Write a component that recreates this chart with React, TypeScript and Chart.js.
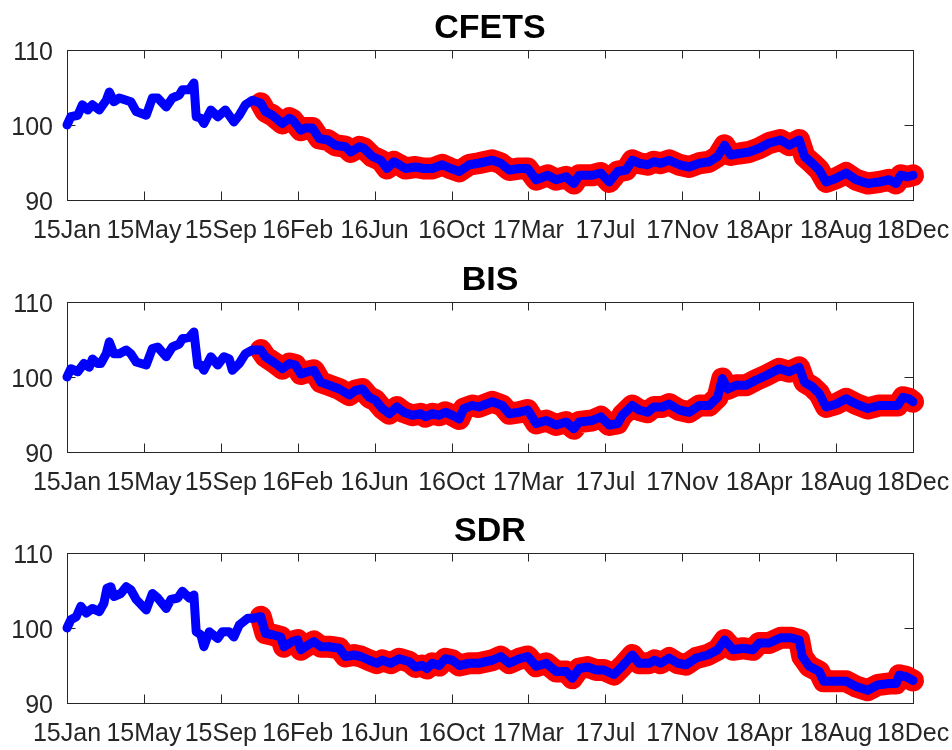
import React, { useEffect, useRef } from 'react';
import { Chart, registerables } from 'chart.js';

Chart.register(...registerables);

// x positions are in units of the (evenly spaced) date-tick intervals
const tickLabels = ['15Jan', '15May', '15Sep', '16Feb', '16Jun', '16Oct', '17Mar', '17Jul', '17Nov', '18Apr', '18Aug', '18Dec'];
const yMin = 90;
const yMax = 110;
const yStep = 10;
const redStart = 2.45;

const cfetsT = [0, 0.05, 0.14, 0.20, 0.27, 0.33, 0.42, 0.51, 0.55, 0.61, 0.68, 0.77, 0.83, 0.90, 1.03, 1.11, 1.18, 1.29, 1.37, 1.46, 1.50, 1.59, 1.65, 1.68, 1.74, 1.78, 1.87, 1.96, 2.06, 2.17, 2.24, 2.32, 2.41, 2.52, 2.58, 2.67, 2.80, 2.89, 2.93, 3.04, 3.10, 3.19, 3.28, 3.39, 3.49, 3.62, 3.69, 3.80, 3.86, 3.97, 4.08, 4.16, 4.25, 4.32, 4.40, 4.53, 4.64, 4.75, 4.88, 4.99, 5.10, 5.23, 5.35, 5.53, 5.64, 5.75, 5.88, 5.99, 6.10, 6.25, 6.36, 6.49, 6.59, 6.66, 6.83, 6.94, 7.05, 7.16, 7.27, 7.35, 7.44, 7.55, 7.63, 7.72, 7.83, 7.96, 8.09, 8.22, 8.35, 8.46, 8.55, 8.63, 8.74, 8.87, 9.00, 9.13, 9.28, 9.39, 9.52, 9.59, 9.69, 9.78, 9.87, 10.00, 10.13, 10.26, 10.41, 10.56, 10.69, 10.78, 10.84, 10.93, 11.00];
const cfetsV = [100, 101.1, 101.3, 102.7, 102, 102.7, 102, 103.3, 104.4, 103.1, 103.6, 103.3, 103.1, 101.8, 101.3, 103.6, 103.6, 102.4, 103.6, 104, 104.7, 104.7, 105.6, 101.1, 100.9, 100.2, 102, 101.1, 102, 100.4, 101.3, 102.7, 103.3, 102.9, 101.8, 101.3, 100.2, 100.9, 100.7, 99.3, 99.6, 99.6, 98.2, 98, 97.3, 97.1, 96.4, 97.1, 96.9, 95.8, 95.3, 94.2, 95.1, 94.7, 94.2, 94.4, 94.2, 94.2, 94.7, 94.2, 93.8, 94.7, 94.9, 95.3, 94.9, 94, 94.2, 94.2, 92.7, 93.3, 92.7, 93.1, 92.2, 93.3, 93.3, 93.6, 92.4, 93.8, 94, 95.3, 94.9, 94.7, 95.1, 94.9, 95.3, 94.7, 94.4, 94.9, 95.1, 95.8, 97.3, 96, 96.2, 96.4, 96.9, 97.6, 98, 97.3, 98, 95.8, 94.9, 94, 92.4, 92.9, 93.6, 92.7, 92.2, 92.4, 92.7, 92.2, 93.3, 93.1, 93.3];

const bisT = [0, 0.05, 0.14, 0.22, 0.29, 0.33, 0.40, 0.44, 0.51, 0.55, 0.61, 0.68, 0.77, 0.83, 0.90, 1.03, 1.11, 1.18, 1.29, 1.37, 1.46, 1.50, 1.59, 1.65, 1.70, 1.74, 1.78, 1.87, 1.96, 2.04, 2.11, 2.15, 2.24, 2.32, 2.41, 2.52, 2.58, 2.71, 2.80, 2.89, 2.97, 3.04, 3.13, 3.21, 3.30, 3.41, 3.54, 3.67, 3.75, 3.84, 3.93, 4.01, 4.10, 4.19, 4.29, 4.38, 4.49, 4.60, 4.66, 4.75, 4.84, 4.92, 5.01, 5.10, 5.16, 5.27, 5.35, 5.53, 5.66, 5.75, 5.88, 5.99, 6.10, 6.23, 6.36, 6.49, 6.59, 6.66, 6.83, 6.94, 7.05, 7.16, 7.22, 7.35, 7.44, 7.55, 7.63, 7.74, 7.83, 7.96, 8.09, 8.22, 8.35, 8.46, 8.52, 8.59, 8.70, 8.83, 8.96, 9.09, 9.26, 9.39, 9.52, 9.59, 9.69, 9.78, 9.87, 10.00, 10.13, 10.26, 10.41, 10.56, 10.69, 10.80, 10.87, 10.95, 11.00];
const bisV = [100, 101.1, 100.7, 101.8, 101.3, 102.4, 101.8, 101.8, 103.1, 104.7, 103.1, 103.1, 103.6, 103.1, 102, 101.6, 103.8, 104, 102.7, 104, 104.4, 105.1, 105.3, 106, 101.6, 101.6, 100.9, 102.7, 101.6, 102.7, 102.4, 100.9, 101.8, 103.1, 103.6, 103.6, 102.7, 101.8, 101.1, 101.8, 101.6, 100.4, 100.7, 100.9, 99.3, 98.9, 98.4, 97.6, 98.2, 98.4, 97.3, 96.9, 95.8, 95.1, 96, 95.3, 94.9, 95.1, 94.7, 95.1, 94.9, 95.3, 94.9, 94.4, 95.8, 96.2, 96, 96.7, 96.2, 95.1, 95.3, 95.6, 93.8, 94.2, 93.6, 94, 93.1, 94, 94.2, 94.7, 93.6, 93.8, 94.9, 96.2, 95.6, 95.3, 96, 96, 96.4, 95.6, 95.3, 96.2, 96.2, 97.3, 99.8, 98.4, 98.9, 98.9, 99.6, 100.2, 101.1, 100.7, 101.3, 99.3, 98.7, 97.8, 96, 96.4, 97.1, 96.4, 95.8, 96.2, 96.2, 96.2, 97.3, 97.1, 96.7];

const sdrT = [0, 0.05, 0.12, 0.18, 0.25, 0.33, 0.42, 0.48, 0.52, 0.57, 0.61, 0.70, 0.77, 0.83, 0.90, 1.03, 1.11, 1.18, 1.29, 1.35, 1.44, 1.50, 1.59, 1.65, 1.68, 1.74, 1.78, 1.85, 1.96, 2.02, 2.11, 2.17, 2.24, 2.35, 2.41, 2.52, 2.58, 2.67, 2.78, 2.82, 2.93, 3.00, 3.04, 3.13, 3.21, 3.30, 3.41, 3.54, 3.62, 3.73, 3.82, 3.93, 4.03, 4.10, 4.21, 4.32, 4.45, 4.53, 4.62, 4.68, 4.75, 4.84, 4.92, 5.01, 5.10, 5.23, 5.35, 5.53, 5.64, 5.75, 5.88, 5.99, 6.10, 6.23, 6.36, 6.49, 6.57, 6.66, 6.77, 6.88, 6.98, 7.11, 7.22, 7.35, 7.44, 7.57, 7.64, 7.72, 7.83, 7.94, 8.05, 8.18, 8.33, 8.46, 8.55, 8.66, 8.79, 8.92, 9.00, 9.13, 9.28, 9.41, 9.52, 9.56, 9.65, 9.78, 9.84, 10.00, 10.13, 10.26, 10.41, 10.54, 10.69, 10.78, 10.82, 10.91, 11.00];
const sdrV = [100, 101.1, 101.5, 102.9, 102, 102.6, 102.2, 103.3, 105.3, 105.5, 104.2, 104.6, 105.5, 105.1, 103.8, 102.4, 104.6, 104, 102.6, 103.8, 104, 104.9, 104, 104.4, 99.5, 99.1, 97.5, 99.5, 98.6, 99.5, 99.5, 98.8, 100.4, 101.3, 101.3, 101.5, 99.3, 99.1, 98.8, 97.5, 98.2, 98.4, 97.1, 97.7, 98.2, 97.5, 97.5, 97.3, 96.2, 96.4, 96.2, 95.7, 95.3, 95.7, 95.3, 95.9, 95.5, 94.8, 95, 94.6, 95.3, 95, 95.9, 95.7, 95, 95.3, 95.3, 95.7, 96.2, 95.3, 95.9, 96.2, 94.9, 95.3, 94.2, 94.2, 93.3, 94.6, 94.8, 94.4, 94.4, 93.8, 94.9, 96.4, 95.3, 95.3, 95.7, 95.3, 96, 95.3, 95.1, 96, 96.4, 97.1, 98.4, 97.1, 97.3, 97.1, 98, 98, 98.7, 98.7, 98.4, 96.2, 94.9, 94.2, 92.9, 92.9, 92.9, 92.2, 91.7, 92.4, 92.6, 92.6, 93.7, 93.5, 93];

const FONT = '"Liberation Sans", Arial, Helvetica, sans-serif';
const AXIS_COLOR = '#262626';

const boxPlugin = {
  id: 'matlabBox',
  beforeDatasetsDraw(chart: any) {
    const { ctx, chartArea: a, scales } = chart;
    const tl = 8.5;
    ctx.save();
    ctx.strokeStyle = AXIS_COLOR;
    ctx.lineWidth = 1;
    ctx.strokeRect(Math.round(a.left) + 0.5, Math.round(a.top) + 0.5, Math.round(a.right - a.left), Math.round(a.bottom - a.top));
    ctx.beginPath();
    scales.x.ticks.forEach((t: any) => {
      const px = Math.round(scales.x.getPixelForValue(t.value)) + 0.5;
      ctx.moveTo(px, a.bottom);
      ctx.lineTo(px, a.bottom - tl);
      ctx.moveTo(px, a.top);
      ctx.lineTo(px, a.top + tl);
    });
    scales.y.ticks.forEach((t: any) => {
      const py = Math.round(scales.y.getPixelForValue(t.value)) + 0.5;
      ctx.moveTo(a.left, py);
      ctx.lineTo(a.left + tl, py);
      ctx.moveTo(a.right, py);
      ctx.lineTo(a.right - tl, py);
    });
    ctx.stroke();
    ctx.restore();
  },
  afterDraw(chart: any, _args: any, opts: any) {
    const { ctx, chartArea: a } = chart;
    ctx.save();
    ctx.fillStyle = '#000000';
    ctx.font = `bold 34px ${FONT}`;
    ctx.textAlign = 'center';
    ctx.textBaseline = 'alphabetic';
    ctx.fillText(opts.title || '', (a.left + a.right) / 2, a.top - 12);
    ctx.restore();
  },
};

function Panel({ title, t, v, top, height }: { title: string; t: number[]; v: number[]; top: number; height: number }) {
  const ref = useRef<HTMLCanvasElement>(null);
  useEffect(() => {
    if (!ref.current) return;
    const pts = t.map((x, i) => ({ x, y: v[i] }));
    const red = pts.filter((p) => p.x >= redStart);
    const chart = new Chart(ref.current, {
      type: 'line',
      data: {
        datasets: [
          {
            data: pts,
            borderColor: '#0000FF',
            backgroundColor: '#0000FF',
            borderWidth: 9,
            pointRadius: 0,
            borderCapStyle: 'round',
            borderJoinStyle: 'round',
            tension: 0,
            clip: false,
          } as any,
          {
            data: red,
            borderColor: '#FF0000',
            backgroundColor: '#FF0000',
            borderWidth: 22,
            pointRadius: 0,
            borderCapStyle: 'round',
            borderJoinStyle: 'round',
            tension: 0,
            clip: false,
          } as any,
        ],
      },
      options: {
        animation: false,
        responsive: false,
        maintainAspectRatio: false,
        devicePixelRatio: 1,
        events: [],
        layout: { padding: { left: 0, right: 39, top: 50, bottom: 0 } },
        plugins: {
          legend: { display: false },
          tooltip: { enabled: false },
          title: { display: false },
          matlabBox: { title },
        } as any,
        scales: {
          x: {
            type: 'linear',
            min: 0,
            max: tickLabels.length - 1,
            grid: { display: false, drawTicks: false },
            border: { display: false },
            ticks: {
              stepSize: 1,
              autoSkip: false,
              maxRotation: 0,
              padding: 16,
              color: AXIS_COLOR,
              font: { family: FONT, size: 25 },
              callback: (val: any) => tickLabels[Math.round(Number(val))] ?? '',
            },
            afterFit: (s: any) => {
              s.height = height - 200;
              s.paddingLeft = 0;
              s.paddingRight = 0;
            },
          },
          y: {
            type: 'linear',
            min: yMin,
            max: yMax,
            grid: { display: false, drawTicks: false },
            border: { display: false },
            ticks: {
              stepSize: yStep,
              padding: 14,
              labelOffset: 3,
              color: AXIS_COLOR,
              font: { family: FONT, size: 25 },
            },
            afterFit: (s: any) => {
              s.width = 67;
              s.paddingTop = 0;
              s.paddingBottom = 0;
            },
          },
        },
      },
      plugins: [boxPlugin],
    });
    return () => chart.destroy();
  }, []);
  return (
    <canvas
      ref={ref}
      width={952}
      height={height}
      style={{ position: 'absolute', left: 0, top, width: 952, height }}
    />
  );
}

export default function App() {
  return (
    <div style={{ position: 'absolute', left: 0, top: 0, width: 952, height: 750, background: '#ffffff', overflow: 'hidden' }}>
      <Panel title="CFETS" t={cfetsT} v={cfetsV} top={0} height={250} />
      <Panel title="BIS" t={bisT} v={bisV} top={252} height={250} />
      <Panel title="SDR" t={sdrT} v={sdrV} top={503} height={247} />
    </div>
  );
}
